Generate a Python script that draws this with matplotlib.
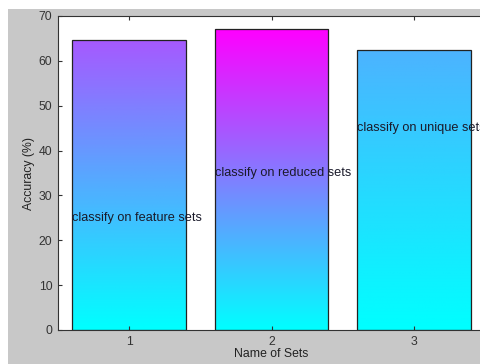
import numpy as np
import matplotlib
matplotlib.use("Agg")
import matplotlib.pyplot as plt
from matplotlib.patches import Rectangle

sets = [1, 2, 3]
accuracy = [64.6, 67.0, 62.4]
labels = ["classify on feature sets", "classify on reduced sets", "classify on unique sets"]
label_y = [25, 35, 45]
top_level = [0.65, 1.0, 0.30]   # colormap position reached at each bar top

plt.rcParams['font.family'] = ['Liberation Sans', 'DejaVu Sans']

fig = plt.figure(figsize=(4.8, 3.64), dpi=100, facecolor='white')
fig.patches.append(Rectangle((8/480, 0), 1, 1 - 9/364, transform=fig.transFigure,
                             facecolor='#c8c8c8', edgecolor='none', zorder=-10))
ax = fig.add_axes([58/480, 1 - 330/364, 427/480, 314/364])
ax.set_facecolor('white')

cmap = plt.get_cmap('cool')
w = 0.8
for x, h, c in zip(sets, accuracy, top_level):
    grad = np.linspace(0, c, 256).reshape(-1, 1)
    im = ax.imshow(grad, cmap=cmap, vmin=0, vmax=1, origin='lower', aspect='auto',
                   extent=[x - w/2, x + w/2, 0, h], zorder=1)
    rect = Rectangle((x - w/2, 0), w, h, facecolor='none', edgecolor='#222222',
                     linewidth=0.9, zorder=2)
    ax.add_patch(rect)
    im.set_clip_path(rect)

for x, y, t in zip(sets, label_y, labels):
    ax.text(x - w/2, y, t, ha='left', va='center', fontsize=9.2, color='#1a1a2a', zorder=3)

ax.set_xlim(0.5, 3.5)
ax.set_ylim(0, 70)
ax.set_xticks(sets)
ax.set_yticks(range(0, 71, 10))
ax.tick_params(direction='in', length=3, labelsize=8.8, colors='#333333',
               top=True, right=True, pad=4)
for s in ax.spines.values():
    s.set_color('#333333')
    s.set_linewidth(0.8)
ax.set_xlabel("Name of Sets", fontsize=8.8, color='#222222', labelpad=0)
ax.set_ylabel("Accuracy (%)", fontsize=8.8, color='#222222', labelpad=3)

fig.savefig("out.png", dpi=100, facecolor=fig.get_facecolor())
